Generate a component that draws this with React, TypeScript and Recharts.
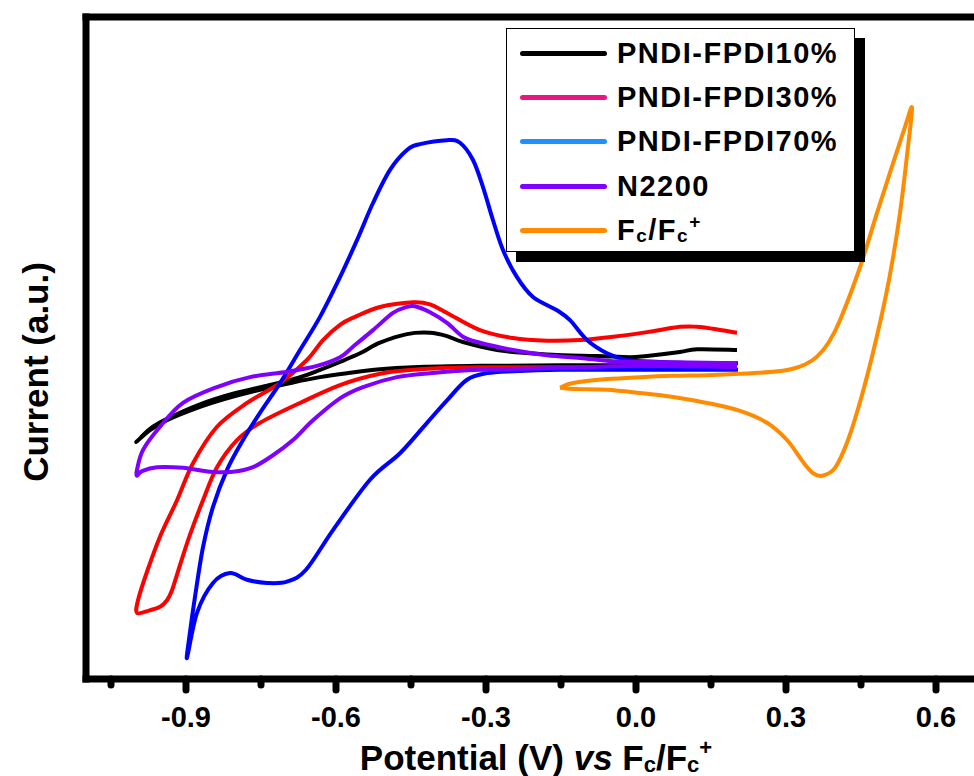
import React from "react";
import { LineChart, Line, XAxis, YAxis, ReferenceLine, Legend } from "recharts";

// cyclic voltammograms, [potential V vs Fc/Fc+, current a.u.]
// each loop: cathodic branch (0.2 V -> vertex) then anodic branch back
const fpdi10 = [
  [0.202, -0.26], [0.028, -0.26], [-0.152, -0.26], [-0.312, -0.27], [-0.446, -0.29],
  [-0.512, -0.32], [-0.578, -0.38], [-0.632, -0.44], [-0.686, -0.52], [-0.752, -0.63],
  [-0.818, -0.76], [-0.872, -0.89], [-0.938, -1.09], [-0.972, -1.24], [-0.998, -1.41],
  [-0.994, -1.38], [-0.972, -1.22], [-0.938, -1.07], [-0.872, -0.85], [-0.806, -0.69],
  [-0.738, -0.57], [-0.672, -0.44], [-0.632, -0.33], [-0.592, -0.21], [-0.552, -0.08],
  [-0.512, 0.08], [-0.458, 0.21], [-0.412, 0.23], [-0.378, 0.18], [-0.346, 0.09],
  [-0.278, -0.03], [-0.212, -0.08], [-0.146, -0.11], [-0.078, -0.12], [-0.012, -0.14],
  [0.022, -0.12], [0.088, -0.06], [0.122, -0.02], [0.202, -0.03],
];

const fpdi30 = [
  [0.202, -0.29], [0.028, -0.29], [-0.152, -0.29], [-0.312, -0.29], [-0.378, -0.3],
  [-0.446, -0.33], [-0.512, -0.39], [-0.592, -0.56], [-0.672, -0.83], [-0.752, -1.13],
  [-0.798, -1.39], [-0.838, -1.8], [-0.866, -2.3], [-0.892, -2.82], [-0.912, -3.28],
  [-0.928, -3.66], [-0.938, -3.81], [-0.952, -3.91], [-0.976, -3.97], [-0.998, -4.0],
  [-0.996, -3.81], [-0.978, -3.38], [-0.952, -2.85], [-0.918, -2.3], [-0.886, -1.74],
  [-0.838, -1.19], [-0.778, -0.83], [-0.712, -0.53], [-0.658, -0.18], [-0.626, 0.12],
  [-0.592, 0.35], [-0.562, 0.47], [-0.512, 0.62], [-0.446, 0.69], [-0.412, 0.66],
  [-0.378, 0.53], [-0.312, 0.27], [-0.246, 0.15], [-0.178, 0.11], [-0.112, 0.12],
  [-0.046, 0.17], [0.022, 0.24], [0.088, 0.32], [0.122, 0.32], [0.154, 0.29], [0.202, 0.23],
];

const fpdi70 = [
  [0.204, -0.33], [0.028, -0.33], [-0.152, -0.33], [-0.246, -0.35], [-0.298, -0.38],
  [-0.338, -0.48], [-0.378, -0.79], [-0.418, -1.13], [-0.472, -1.59], [-0.532, -1.99],
  [-0.606, -2.75], [-0.66, -3.35], [-0.698, -3.53], [-0.738, -3.55], [-0.778, -3.5],
  [-0.812, -3.4], [-0.846, -3.55], [-0.878, -4.0], [-0.898, -4.68],
  [-0.892, -4.29], [-0.882, -3.76], [-0.866, -3.01], [-0.846, -2.4], [-0.818, -1.84],
  [-0.786, -1.39], [-0.752, -0.98], [-0.712, -0.53], [-0.672, -0.03], [-0.632, 0.47],
  [-0.592, 1.07], [-0.558, 1.63], [-0.526, 2.19], [-0.492, 2.69], [-0.458, 2.99],
  [-0.432, 3.08], [-0.378, 3.14], [-0.352, 3.1], [-0.326, 2.84], [-0.306, 2.43],
  [-0.286, 1.93], [-0.266, 1.48], [-0.238, 1.07], [-0.206, 0.77], [-0.158, 0.57],
  [-0.132, 0.42], [-0.098, 0.12], [-0.058, -0.08], [-0.018, -0.18], [0.048, -0.21],
  [0.128, -0.23], [0.204, -0.23],
];

const n2200 = [
  [0.202, -0.29], [0.022, -0.27], [-0.152, -0.3], [-0.312, -0.33], [-0.412, -0.38],
  [-0.478, -0.44], [-0.546, -0.59], [-0.592, -0.76], [-0.646, -1.09], [-0.686, -1.39],
  [-0.726, -1.62], [-0.766, -1.8], [-0.806, -1.87], [-0.852, -1.87], [-0.906, -1.81],
  [-0.958, -1.8], [-0.988, -1.86], [-0.998, -1.93],
  [-0.998, -1.84], [-0.986, -1.54], [-0.952, -1.19], [-0.906, -0.83], [-0.838, -0.59],
  [-0.772, -0.44], [-0.698, -0.36], [-0.638, -0.27], [-0.592, -0.14], [-0.566, 0.02],
  [-0.526, 0.27], [-0.486, 0.53], [-0.458, 0.62], [-0.442, 0.63], [-0.412, 0.54],
  [-0.378, 0.38], [-0.346, 0.17], [-0.312, 0.08], [-0.246, -0.03], [-0.178, -0.11],
  [-0.112, -0.15], [-0.046, -0.2], [0.022, -0.21], [0.202, -0.23],
];

const ferrocene = [
  [-0.152, -0.6], [-0.126, -0.53], [-0.058, -0.47], [0.008, -0.44], [0.074, -0.42],
  [0.142, -0.41], [0.208, -0.39], [0.274, -0.36], [0.31, -0.32], [0.338, -0.25],
  [0.362, -0.13], [0.385, 0.08], [0.408, 0.42], [0.448, 1.22], [0.482, 2.04],
  [0.514, 2.79], [0.538, 3.34], [0.552, 3.63],
  [0.544, 3.04], [0.528, 2.04], [0.506, 1.03], [0.48, 0.12], [0.452, -0.71],
  [0.424, -1.39], [0.398, -1.81], [0.372, -1.93], [0.354, -1.89], [0.334, -1.72],
  [0.302, -1.39], [0.262, -1.13], [0.208, -0.95], [0.142, -0.83], [0.074, -0.74],
  [0.008, -0.68], [-0.058, -0.63], [-0.122, -0.62], [-0.152, -0.6],
];

const xTicks = [-1.05, -0.9, -0.75, -0.6, -0.45, -0.3, -0.15, 0, 0.15, 0.3, 0.45, 0.6];

const seriesNames = ["PNDI-FPDI10%", "PNDI-FPDI30%", "PNDI-FPDI70%", "N2200", "Fc/Fc+"];
const lineColors = ["#000000", "#ff0000", "#0000ff", "#8000ff", "#ff8c00"];
const legendColors = ["#000000", "#ec1682", "#1e90ff", "#8000ff", "#ff8c00"];

const FONT = '"Liberation Sans", Arial, sans-serif';

const toPts = (a: number[][]) => a.map(([v, i]) => ({ v, i }));

// smooth curve through the points (Catmull-Rom), works for loops
const catmullRom = (context: any) => {
  let pts: number[][] = [];
  return {
    areaStart() {},
    areaEnd() {},
    lineStart() { pts = []; },
    point(x: number, y: number) { pts.push([+x, +y]); },
    lineEnd() {
      const n = pts.length;
      if (!n) return;
      context.moveTo(pts[0][0], pts[0][1]);
      for (let k = 0; k < n - 1; k++) {
        const p0 = pts[k - 1] || pts[k];
        const p1 = pts[k];
        const p2 = pts[k + 1];
        const p3 = pts[k + 2] || p2;
        context.bezierCurveTo(
          p1[0] + (p2[0] - p0[0]) / 6, p1[1] + (p2[1] - p0[1]) / 6,
          p2[0] - (p3[0] - p1[0]) / 6, p2[1] - (p3[1] - p1[1]) / 6,
          p2[0], p2[1]
        );
      }
    },
  };
};

const XTick = (props: any) => {
  const { x, y, payload } = props;
  const val = payload.value as number;
  const major = Math.round(val / 0.15) % 2 === 0;
  return (
    <g>
      <line x1={x} x2={x} y1={y} y2={y + (major ? 11 : 6)} stroke="#000" strokeWidth={7} strokeLinecap="round" />
      {major && (
        <text x={x} y={y + 48} textAnchor="middle" fontFamily={FONT} fontWeight="bold" fontSize={29} fill="#000">
          {val.toFixed(1)}
        </text>
      )}
    </g>
  );
};

const XTitle = () => (
  <text x={536} y={770} textAnchor="middle" fontFamily={FONT} fontWeight="bold" fontSize={35} fill="#000">
    {"Potential (V) "}
    <tspan fontStyle="italic">vs</tspan>
    {" F"}
    <tspan fontSize={22} dy={2}>c</tspan>
    <tspan dy={-2}>/F</tspan>
    <tspan fontSize={22} dy={2}>c</tspan>
    <tspan fontSize={22} dy={-17}>+</tspan>
  </text>
);

const YTitle = () => (
  <text x={48} y={372} transform="rotate(-90, 48, 372)" textAnchor="middle" fontFamily={FONT}
    fontWeight="bold" fontSize={35} fill="#000">
    Current (a.u.)
  </text>
);

const legendLabel = (name: string) =>
  name === "Fc/Fc+" ? (
    <span>
      F<span style={{ fontSize: 19, position: "relative", top: 2 }}>c</span>/F
      <span style={{ fontSize: 19, position: "relative", top: 2 }}>c</span>
      <span style={{ fontSize: 19, position: "relative", top: -12 }}>+</span>
    </span>
  ) : (
    name
  );

const renderLegend = () => (
  <div style={{
    width: 347, height: 220, border: "1px solid #000", background: "#fff",
    boxShadow: "10px 10px 0 #000", fontFamily: FONT, fontWeight: 700, fontSize: 29,
    letterSpacing: 1.5, color: "#000", paddingTop: 2, boxSizing: "content-box",
  }}>
    {seriesNames.map((n, k) => (
      <div key={n} style={{ height: 44.3, display: "flex", alignItems: "center", lineHeight: 1 }}>
        <span style={{
          display: "inline-block", width: 87, height: 5, borderRadius: 3,
          background: legendColors[k], marginLeft: 13, marginRight: 10,
        }} />
        <span>{legendLabel(n)}</span>
      </div>
    ))}
  </div>
);

export default function App() {
  const all = [fpdi10, fpdi30, fpdi70, n2200, ferrocene];
  return (
    <div style={{ position: "absolute", left: 0, top: 0, width: 974, height: 776, overflow: "hidden", background: "#fff" }}>
      <LineChart width={1000} height={776} margin={{ top: 17, right: 14, bottom: 0, left: 0 }}>
        <XAxis type="number" dataKey="v" domain={[-1.1, 0.7]} ticks={xTicks} interval={0}
          tickSize={0} tickMargin={0} tick={<XTick />} height={97}
          axisLine={{ stroke: "#000", strokeWidth: 7, strokeLinecap: "square" }}
          label={<XTitle />} />
        <YAxis type="number" domain={[-5, 5]} tick={false} tickLine={false} width={86}
          axisLine={{ stroke: "#000", strokeWidth: 7, strokeLinecap: "square" }}
          label={<YTitle />} />
        <ReferenceLine y={5} stroke="#000" strokeWidth={7} strokeLinecap="square" />
        <ReferenceLine x={0.7} stroke="#000" strokeWidth={7} />
        {all.map((d, k) => (
          <Line key={seriesNames[k]} data={toPts(d)} dataKey="i" name={seriesNames[k]}
            type={catmullRom as any} stroke={lineColors[k]} strokeWidth={4} dot={false}
            activeDot={false} isAnimationActive={false} />
        ))}
        <Legend content={renderLegend} layout="horizontal" verticalAlign="middle" align="center"
          wrapperStyle={{ left: 506, top: 28, width: 360, height: 240 }} />
      </LineChart>
    </div>
  );
}
